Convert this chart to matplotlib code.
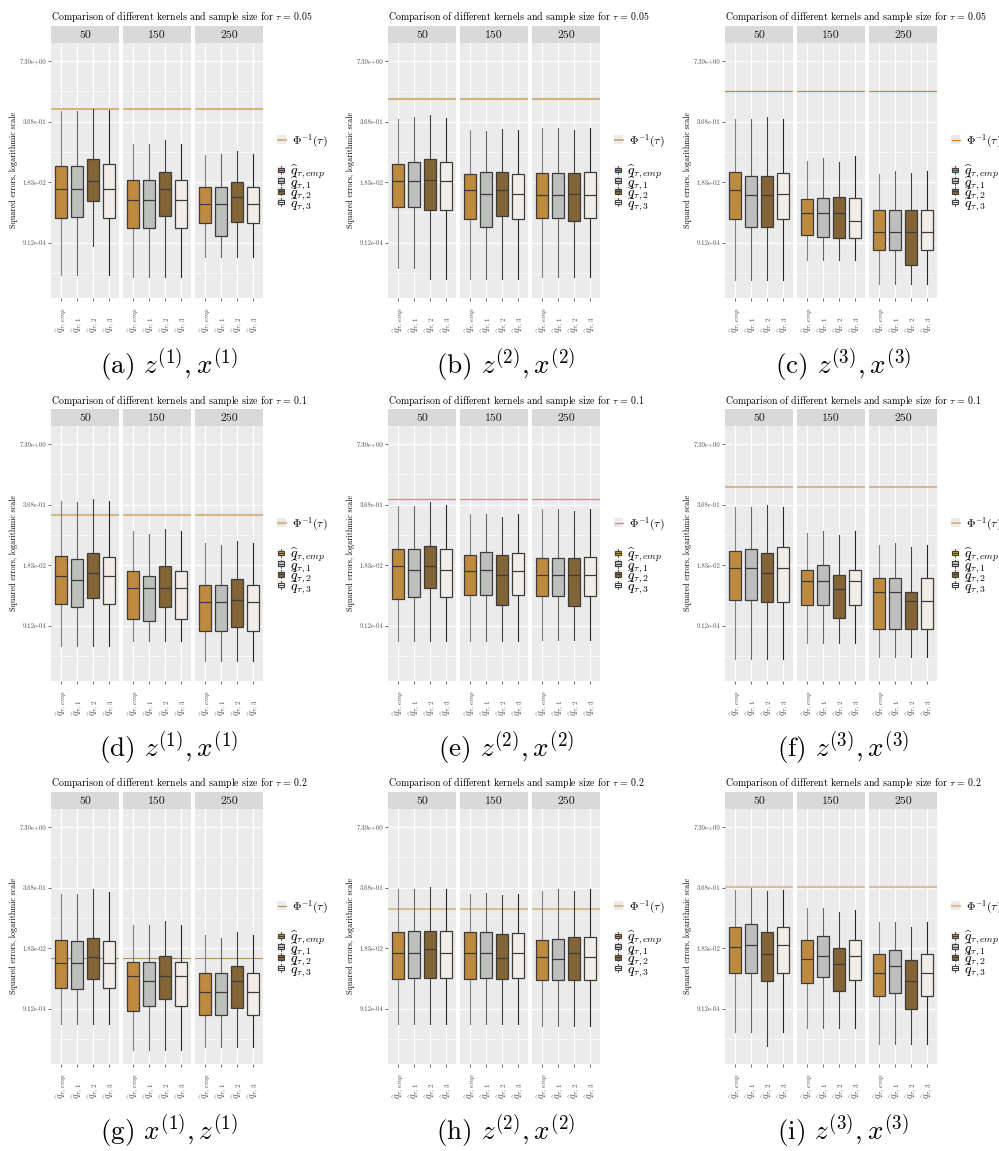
import numpy as np
import matplotlib
matplotlib.use("Agg")
import matplotlib.pyplot as plt
from matplotlib.patches import Rectangle
from matplotlib.lines import Line2D
from matplotlib.legend_handler import HandlerBase
from matplotlib.ticker import FixedLocator, FixedFormatter, NullLocator

plt.rcParams['font.family'] = ['cmr10', 'DejaVu Serif']
plt.rcParams['mathtext.fontset'] = 'cm'
plt.rcParams['axes.unicode_minus'] = False

# ---- data (natural log of squared errors: whislo, q1, median, q3, whishi) ----
sizes = ['50', '150', '250']
kernels = [r'$\widehat{q}_{\tau,emp}$', r'$\widehat{q}_{\tau,1}$',
           r'$\widehat{q}_{\tau,2}$', r'$\widehat{q}_{\tau,3}$']
taus = ['0.05', '0.05', '0.05', '0.1', '0.1', '0.1', '0.2', '0.2', '0.2']
captions = [r'(a) $z^{(1)}, x^{(1)}$', r'(b) $z^{(2)}, x^{(2)}$', r'(c) $z^{(3)}, x^{(3)}$',
            r'(d) $z^{(1)}, x^{(1)}$', r'(e) $z^{(2)}, x^{(2)}$', r'(f) $z^{(3)}, x^{(3)}$',
            r'(g) $x^{(1)}, z^{(1)}$', r'(h) $z^{(2)}, x^{(2)}$', r'(i) $z^{(3)}, x^{(3)}$']

log_err_a = [[[-8.62, -5.76, -4.36, -3.22, -0.49], [-8.62, -5.71, -4.36, -3.22, -0.49],
              [-7.16, -4.95, -3.93, -2.85, -0.36], [-8.62, -5.76, -4.36, -3.12, -0.43]],
             [[-8.68, -6.26, -4.89, -3.88, -2.10], [-8.68, -6.26, -4.89, -3.88, -2.10],
              [-8.68, -5.69, -4.32, -3.52, -1.93], [-8.68, -6.26, -4.89, -3.88, -2.10]],
             [[-7.73, -6.01, -5.07, -4.23, -2.67], [-7.73, -6.65, -5.07, -4.23, -2.59],
              [-7.73, -5.98, -4.75, -3.99, -2.47], [-7.73, -6.01, -5.07, -4.23, -2.59]]]
log_err_b = [[[-8.24, -5.23, -3.93, -3.12, -0.86], [-8.24, -5.23, -3.93, -2.99, -0.76],
              [-8.78, -5.36, -3.88, -2.87, -0.66], [-8.78, -5.36, -3.93, -2.99, -0.82]],
             [[-8.82, -5.83, -4.37, -3.58, -1.43], [-8.82, -6.22, -4.57, -3.52, -1.48],
              [-8.82, -5.66, -4.37, -3.52, -1.35], [-8.82, -5.83, -4.57, -3.58, -1.43]],
             [[-8.68, -5.79, -4.62, -3.55, -1.34], [-8.68, -5.79, -4.62, -3.55, -1.34],
              [-8.68, -5.91, -4.57, -3.55, -1.40], [-8.68, -5.79, -4.62, -3.52, -1.34]]]
log_err_c = [[[-8.83, -5.83, -4.37, -3.52, -0.89], [-8.83, -6.22, -4.65, -3.68, -0.86],
              [-8.83, -6.22, -4.65, -3.68, -0.76], [-8.83, -5.83, -4.57, -3.56, -0.86]],
             [[-7.84, -6.60, -5.55, -4.82, -2.94], [-7.84, -6.74, -5.55, -4.80, -2.82],
              [-7.84, -6.78, -5.55, -4.72, -3.02], [-7.84, -6.78, -5.93, -4.80, -2.69]],
             [[-9.03, -7.36, -6.45, -5.38, -3.58], [-9.03, -7.36, -6.45, -5.38, -3.43],
              [-9.03, -8.09, -6.45, -5.38, -3.53], [-9.03, -7.36, -6.45, -5.38, -3.43]]]
log_err_d = [[[-7.99, -5.91, -4.56, -3.53, -0.84], [-7.99, -6.06, -4.74, -3.70, -0.89],
              [-7.99, -5.63, -4.37, -3.38, -0.72], [-7.99, -5.91, -4.56, -3.58, -0.84]],
             [[-7.74, -6.67, -5.15, -4.27, -2.33], [-7.74, -6.75, -5.15, -4.52, -2.44],
              [-7.74, -6.06, -5.15, -4.03, -2.23], [-7.74, -6.67, -5.15, -4.27, -2.33]],
             [[-8.73, -7.25, -5.81, -4.98, -2.90], [-8.73, -7.25, -5.81, -4.98, -3.00],
              [-8.73, -7.05, -5.71, -4.67, -2.79], [-8.73, -7.25, -5.81, -4.98, -2.90]]]
log_err_e = [[[-7.78, -5.66, -4.03, -3.20, -1.05], [-7.78, -5.56, -4.24, -3.20, -1.05],
              [-7.78, -5.12, -4.03, -3.07, -0.89], [-7.78, -5.56, -4.24, -3.20, -1.00]],
             [[-7.78, -5.50, -4.27, -3.48, -1.48], [-7.78, -5.50, -4.24, -3.33, -1.48],
              [-7.78, -5.99, -4.47, -3.48, -1.60], [-7.78, -5.50, -4.27, -3.42, -1.48]],
             [[-7.69, -5.55, -4.51, -3.66, -1.20], [-7.69, -5.55, -4.51, -3.66, -1.20],
              [-7.69, -6.04, -4.51, -3.66, -1.30], [-7.69, -5.55, -4.47, -3.58, -1.20]]]
log_err_f = [[[-8.63, -5.73, -4.13, -3.30, -1.14], [-8.63, -5.73, -4.13, -3.18, -1.14],
              [-8.63, -5.81, -4.37, -3.42, -1.04], [-8.63, -5.81, -4.13, -3.10, -1.14]],
             [[-7.86, -5.98, -4.77, -4.24, -2.43], [-7.86, -5.98, -4.77, -4.01, -2.33],
              [-7.86, -6.62, -5.17, -4.47, -2.49], [-7.86, -5.98, -4.77, -4.24, -2.33]],
             [[-8.55, -7.17, -5.32, -4.65, -3.02], [-8.55, -7.17, -5.32, -4.65, -2.89],
              [-8.55, -7.17, -5.76, -5.32, -3.12], [-8.55, -7.17, -5.76, -4.65, -3.02]]]
log_err_g = [[[-7.77, -5.96, -4.76, -3.62, -1.31], [-7.77, -6.01, -4.76, -3.64, -1.30],
              [-7.77, -5.55, -4.46, -3.51, -1.07], [-7.77, -5.96, -4.76, -3.64, -1.23]],
             [[-9.06, -7.13, -5.38, -4.69, -2.88], [-9.06, -6.88, -5.61, -4.69, -2.88],
              [-9.06, -6.51, -5.38, -4.41, -2.66], [-9.06, -6.88, -5.38, -4.69, -2.88]],
             [[-8.88, -7.31, -6.19, -5.22, -3.36], [-8.88, -7.31, -6.19, -5.22, -3.51],
              [-8.88, -6.95, -5.65, -4.91, -3.22], [-8.88, -7.31, -6.19, -5.22, -3.36]]]
log_err_h = [[[-7.77, -5.53, -4.26, -3.19, -1.05], [-7.77, -5.47, -4.26, -3.16, -1.08],
              [-7.77, -5.47, -4.02, -3.16, -0.95], [-7.77, -5.48, -4.23, -3.16, -1.05]],
             [[-7.77, -5.53, -4.26, -3.19, -1.31], [-7.77, -5.47, -4.26, -3.19, -1.25],
              [-7.77, -5.53, -4.48, -3.32, -1.35], [-7.77, -5.50, -4.23, -3.24, -1.31]],
             [[-7.86, -5.57, -4.44, -3.62, -1.15], [-7.86, -5.57, -4.53, -3.55, -1.08],
              [-7.86, -5.57, -4.26, -3.47, -1.18], [-7.86, -5.57, -4.44, -3.47, -1.08]]]
log_err_i = [[[-8.17, -5.22, -3.93, -2.94, -1.10], [-8.17, -5.22, -3.85, -2.83, -1.00],
              [-8.86, -5.65, -4.30, -3.22, -1.18], [-8.17, -5.22, -3.85, -2.93, -1.10]],
             [[-7.97, -5.73, -4.53, -3.60, -2.02], [-7.97, -5.42, -4.41, -3.42, -2.02],
              [-7.97, -6.11, -4.81, -3.97, -2.19], [-7.97, -5.60, -4.41, -3.60, -2.12]],
             [[-8.73, -6.39, -5.24, -4.31, -2.71], [-8.73, -6.24, -4.88, -4.10, -2.71],
              [-8.73, -7.00, -5.65, -4.59, -2.94], [-8.73, -6.39, -5.24, -4.31, -2.71]]]
panels = [log_err_a, log_err_b, log_err_c, log_err_d, log_err_e,
          log_err_f, log_err_g, log_err_h, log_err_i]

# log of the Phi^{-1}(tau) reference line per panel
phi_line = [-0.38, 0.10, 0.53, -1.52, -0.71, -0.11, -4.51, -2.05, -0.97]

y_ticks_log = [2, -1, -4, -7]
y_minor_log = [0.5, -2.5, -5.5, -8.5]

# ---- styles ----
box_fill = ['#BE8A40', '#BDBFBD', '#836436', '#F2EEE7']
whisk_col = ['#808080', '#666666', '#404040', '#262626']
edge_col = '#3C3C3C'
line_col = ['#D6B27A', '#D3AE78', '#CC8B2F', '#D6B888', '#C9964A',
            '#D2A66A', '#B58E58', '#D2AE78', '#DCBF92']
line_w = [1.4, 1.4, 0.9, 1.6, 0.9, 1.1, 0.8, 1.1, 1.6]

W, H = 999, 1151
col_left = [51, 388, 725]
row_top = [0, 383, 766]

fig = plt.figure(figsize=(W / 100, H / 100), dpi=100)


def px_axes(x, y, w, h):
    return fig.add_axes([x / W, 1 - (y + h) / H, w / W, h / H])


class LineKey(HandlerBase):
    def create_artists(self, legend, orig, xd, yd, w, h, fs, trans):
        bg = Rectangle((-xd, -yd), w, h, fc='#EBEBEB', ec='none', transform=trans)
        ln = Line2D([-xd + 0.1 * w, -xd + 0.9 * w], [-yd + h / 2] * 2,
                    color=orig.get_color(), lw=orig.get_linewidth(), transform=trans)
        return [bg, ln]


class BoxKey(HandlerBase):
    def create_artists(self, legend, orig, xd, yd, w, h, fs, trans):
        x, y = -xd, -yd
        bg = Rectangle((x, y), w, h, fc='#EBEBEB', ec='none', transform=trans)
        bx = Rectangle((x + 0.12 * w, y + 0.22 * h), 0.76 * w, 0.56 * h,
                       fc=orig.get_facecolor(), ec=edge_col, lw=0.7, transform=trans)
        md = Line2D([x + 0.12 * w, x + 0.88 * w], [y + 0.5 * h] * 2,
                    color=edge_col, lw=0.7, transform=trans)
        w1 = Line2D([x + 0.5 * w] * 2, [y + 0.02 * h, y + 0.22 * h],
                    color=edge_col, lw=0.6, transform=trans)
        w2 = Line2D([x + 0.5 * w] * 2, [y + 0.78 * h, y + 0.98 * h],
                    color=edge_col, lw=0.6, transform=trans)
        return [bg, bx, md, w1, w2]


for p in range(9):
    row, col = divmod(p, 3)
    x0 = col_left[col]
    y0 = row_top[row]
    data = panels[p]

    fig.text(x0 / W, 1 - (y0 + 17) / H,
             r'Comparison of different kernels and sample size for $\tau$ = ' + taus[p],
             fontsize=7.1, ha='left', va='center', color='black')

    for f in range(3):
        fx = x0 + f * 72
        sax = px_axes(fx, y0 + 26, 68, 17)
        sax.set_facecolor('#D9D9D9')
        sax.set_xticks([])
        sax.set_yticks([])
        for s in sax.spines.values():
            s.set_visible(False)
        sax.text(0.5, 0.45, sizes[f], transform=sax.transAxes, ha='center', va='center',
                 fontsize=8.5, color='#1A1A1A')

        ax = px_axes(fx, y0 + 43, 68, 255)
        ax.set_facecolor('#EBEBEB')
        ax.set_yscale('log', base=np.e)
        ax.set_ylim(np.exp(-9.74), np.exp(2.89))
        ax.set_xlim(0.4, 4.6)
        for s in ax.spines.values():
            s.set_visible(False)

        ax.axhline(np.exp(phi_line[p]), color=line_col[p], lw=line_w[p], zorder=1.5)

        stats = [dict(whislo=np.exp(v[0]), q1=np.exp(v[1]), med=np.exp(v[2]),
                      q3=np.exp(v[3]), whishi=np.exp(v[4])) for v in data[f]]
        art = ax.bxp(stats, positions=[1, 2, 3, 4], widths=0.75, patch_artist=True,
                     showfliers=False, showcaps=False, manage_ticks=False,
                     boxprops=dict(edgecolor=edge_col, lw=0.9),
                     medianprops=dict(color=edge_col, lw=0.9),
                     whiskerprops=dict(lw=0.8))
        for k, b in enumerate(art['boxes']):
            b.set_facecolor(box_fill[k])
            b.set_zorder(2.2)
            art['medians'][k].set_zorder(2.3)
            for wk in art['whiskers'][2 * k:2 * k + 2]:
                wk.set_color(whisk_col[k])

        ax.yaxis.set_major_locator(FixedLocator(np.exp(y_ticks_log)))
        ax.yaxis.set_minor_locator(FixedLocator(np.exp(y_minor_log)))
        ax.yaxis.set_major_formatter(FixedFormatter(
            ['{:.2e}'.format(v) for v in np.exp(y_ticks_log)]))
        ax.yaxis.set_minor_formatter(FixedFormatter([''] * 4))
        ax.set_xticks([1, 2, 3, 4])
        ax.xaxis.set_minor_locator(NullLocator())
        ax.set_xticklabels(kernels, rotation=90, va='bottom', ha='center',
                           fontsize=7.2, color='#4D4D4D')
        ax.tick_params(axis='x', length=2, width=0.5, color='#333333', pad=23)
        ax.tick_params(axis='y', which='minor', length=0)
        if f == 0:
            ax.tick_params(axis='y', which='major', length=2, width=0.5, color='#333333',
                           labelsize=4.8, labelcolor='#4D4D4D', pad=1.2)
        else:
            ax.tick_params(axis='y', which='major', length=0, labelleft=False)

        ax.grid(which='major', color='white', lw=0.9)
        ax.grid(which='minor', axis='y', color='white', lw=0.45)
        ax.set_axisbelow(True)

    fig.text((x0 - 37) / W, 1 - (y0 + 43 + 127) / H, 'Squared errors, logarithmic scale',
             rotation=90, fontsize=5.8, ha='center', va='center', color='black')

    # legends
    h_line = Line2D([], [], color=line_col[p], lw=line_w[p])
    fig.legend([h_line], [r'$\Phi^{-1}(\tau)$'], loc='center left',
               bbox_to_anchor=((x0 + 226) / W, 1 - (y0 + 141) / H),
               frameon=False, fontsize=8.5, handlelength=0.8, handleheight=0.8,
               handletextpad=0.45, borderpad=0, borderaxespad=0,
               handler_map={Line2D: LineKey()})
    for k in range(4):
        h_box = Rectangle((0, 0), 1, 1, fc=box_fill[k])
        fig.legend([h_box], [kernels[k]], loc='center left',
                   bbox_to_anchor=((x0 + 226) / W, 1 - (y0 + 172 + k * 10.7) / H),
                   frameon=False, fontsize=10, handlelength=0.6, handleheight=0.55,
                   handletextpad=0.35, borderpad=0, borderaxespad=0,
                   handler_map={Rectangle: BoxKey()})

    fig.text((x0 + 118) / W, 1 - (y0 + 365) / H, captions[p], fontsize=19.5,
             ha='center', va='center', color='black')

fig.savefig('out.png', dpi=100, facecolor='white')
